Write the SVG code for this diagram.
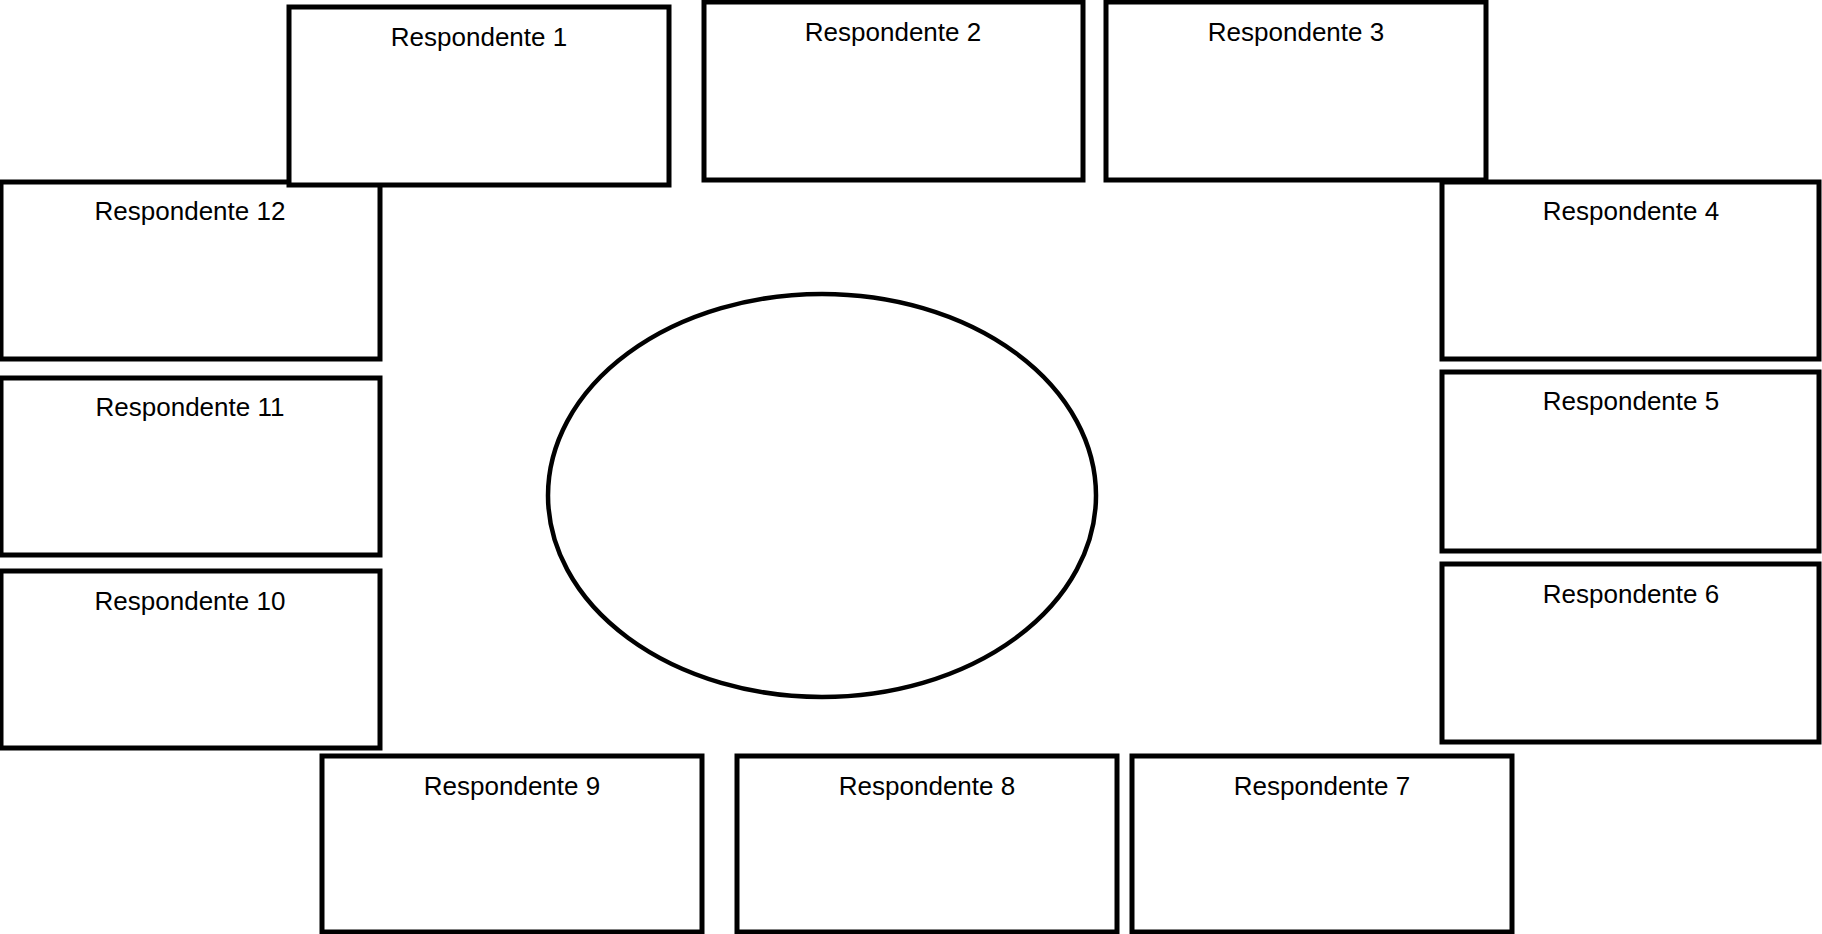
<svg xmlns="http://www.w3.org/2000/svg" width="1822" height="934" viewBox="0 0 1822 934">
<style>
.box{fill:#fff;stroke:#000;stroke-width:5}
.lbl{font-family:"Liberation Sans",Arial,sans-serif;font-size:26px;fill:#000;text-anchor:middle}
.ell{fill:#fff;stroke:#000;stroke-width:4.5}
</style>
<rect width="1822" height="934" fill="#fff"/>
<g id="connectors"></g>
<g id="center"><ellipse class="ell" cx="822" cy="495.5" rx="274" ry="201.5"/></g>
<g id="r12"><rect class="box" x="1" y="182" width="379" height="177"/><text class="lbl" x="190" y="220">Respondente 12</text></g>
<g id="r11"><rect class="box" x="1" y="378" width="379" height="177"/><text class="lbl" x="190" y="416">Respondente 11</text></g>
<g id="r10"><rect class="box" x="1" y="571" width="379" height="177"/><text class="lbl" x="190" y="610">Respondente 10</text></g>
<g id="r1"><rect class="box" x="289" y="7" width="380" height="178"/><text class="lbl" x="479" y="46">Respondente 1</text></g>
<g id="r2"><rect class="box" x="704" y="2" width="379" height="178"/><text class="lbl" x="893" y="41">Respondente 2</text></g>
<g id="r3"><rect class="box" x="1106" y="2" width="380" height="178"/><text class="lbl" x="1296" y="41">Respondente 3</text></g>
<g id="r4"><rect class="box" x="1442" y="182" width="377" height="177"/><text class="lbl" x="1631" y="220">Respondente 4</text></g>
<g id="r5"><rect class="box" x="1442" y="372" width="377" height="179"/><text class="lbl" x="1631" y="410">Respondente 5</text></g>
<g id="r6"><rect class="box" x="1442" y="564" width="377" height="178"/><text class="lbl" x="1631" y="603">Respondente 6</text></g>
<g id="r9"><rect class="box" x="322" y="756" width="380" height="176"/><text class="lbl" x="512" y="795">Respondente 9</text></g>
<g id="r8"><rect class="box" x="737" y="756" width="380" height="176"/><text class="lbl" x="927" y="795">Respondente 8</text></g>
<g id="r7"><rect class="box" x="1132" y="756" width="380" height="176"/><text class="lbl" x="1322" y="795">Respondente 7</text></g>
</svg>
